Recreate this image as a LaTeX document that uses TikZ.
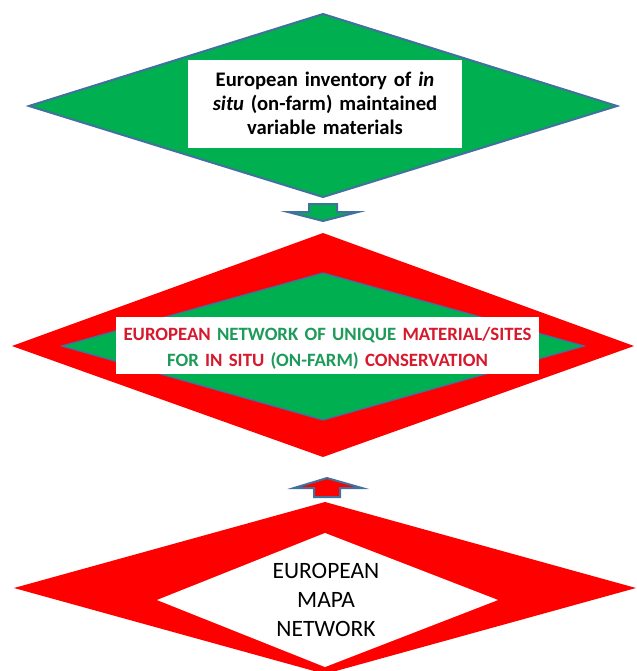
\documentclass[tikz,border=0pt]{standalone}
\usepackage{fontspec}
\setmainfont{Carlito}
\definecolor{fgreen}{HTML}{00B050}
\definecolor{fred}{HTML}{FF0000}
\definecolor{outl}{HTML}{41719C}
\definecolor{tred}{RGB}{215,25,45}
\definecolor{tgreen}{RGB}{30,155,90}
\begin{document}
\begin{tikzpicture}[x=0.75pt,y=-0.75pt,
  blueedge/.style={draw=outl,line width=1.5pt,line join=miter},
  boxtext/.style={inner sep=0pt,align=center,anchor=base}]
\useasboundingbox (0,0) rectangle (636,671);
\fill[white] (0,0) rectangle (636,671);
\clip (0,0) rectangle (636,671);
% top green diamond
\filldraw[fill=fgreen,blueedge] (323,14) -- (617,106) -- (323,197) -- (29,106) -- cycle;
\fill[white] (188,60) rectangle (462,148);
\node[boxtext,text width=202pt,font=\fontsize{15.5pt}{18.2pt}\selectfont\bfseries] (inv) at (325,86.3)
  {European inventory of \textit{in}\\ \textit{situ} (on-farm) maintained\\ variable materials};
% down arrow
\filldraw[fill=fgreen,blueedge] (309,204) -- (337,204) -- (337,212) -- (358,212) -- (323,221)
  -- (288,212) -- (309,212) -- cycle;
% middle diamond
\fill[fred] (323,233) -- (634,346) -- (323,457) -- (12,346) -- cycle;
\filldraw[fill=fgreen,draw=outl,line width=1pt] (323,273) -- (584,346) -- (323,420) -- (62,346) -- cycle;
\fill[white] (116,317) rectangle (539,374);
\node[boxtext,text width=315pt,font=\fontsize{14.1pt}{19.9pt}\selectfont\bfseries] (net) at (327.5,340)
  {\textcolor{tred}{EUROPEAN} \textcolor{tgreen}{NETWORK OF UNIQUE} \textcolor{tred}{MATERIAL/SITES}\\
   \textcolor{tgreen}{FOR} \textcolor{tred}{IN SITU} \textcolor{tgreen}{(ON-FARM)} \textcolor{tred}{CONSERVATION}};
% up arrow
\filldraw[fill=fred,blueedge] (314,497) -- (340,497) -- (340,488) -- (362,488) -- (327,478)
  -- (294,488) -- (314,488) -- cycle;
% bottom diamond
\fill[fred] (325,502) -- (636,588) -- (325,674) -- (14,588) -- cycle;
\fill[white] (325,533) -- (498,600) -- (325,667) -- (157,600) -- cycle;
\node[boxtext,text width=150pt,font=\fontsize{17.6pt}{21.75pt}\selectfont] (mapa) at (326,578)
  {EUROPEAN\\ MAPA\\ NETWORK};
\end{tikzpicture}
\end{document}
